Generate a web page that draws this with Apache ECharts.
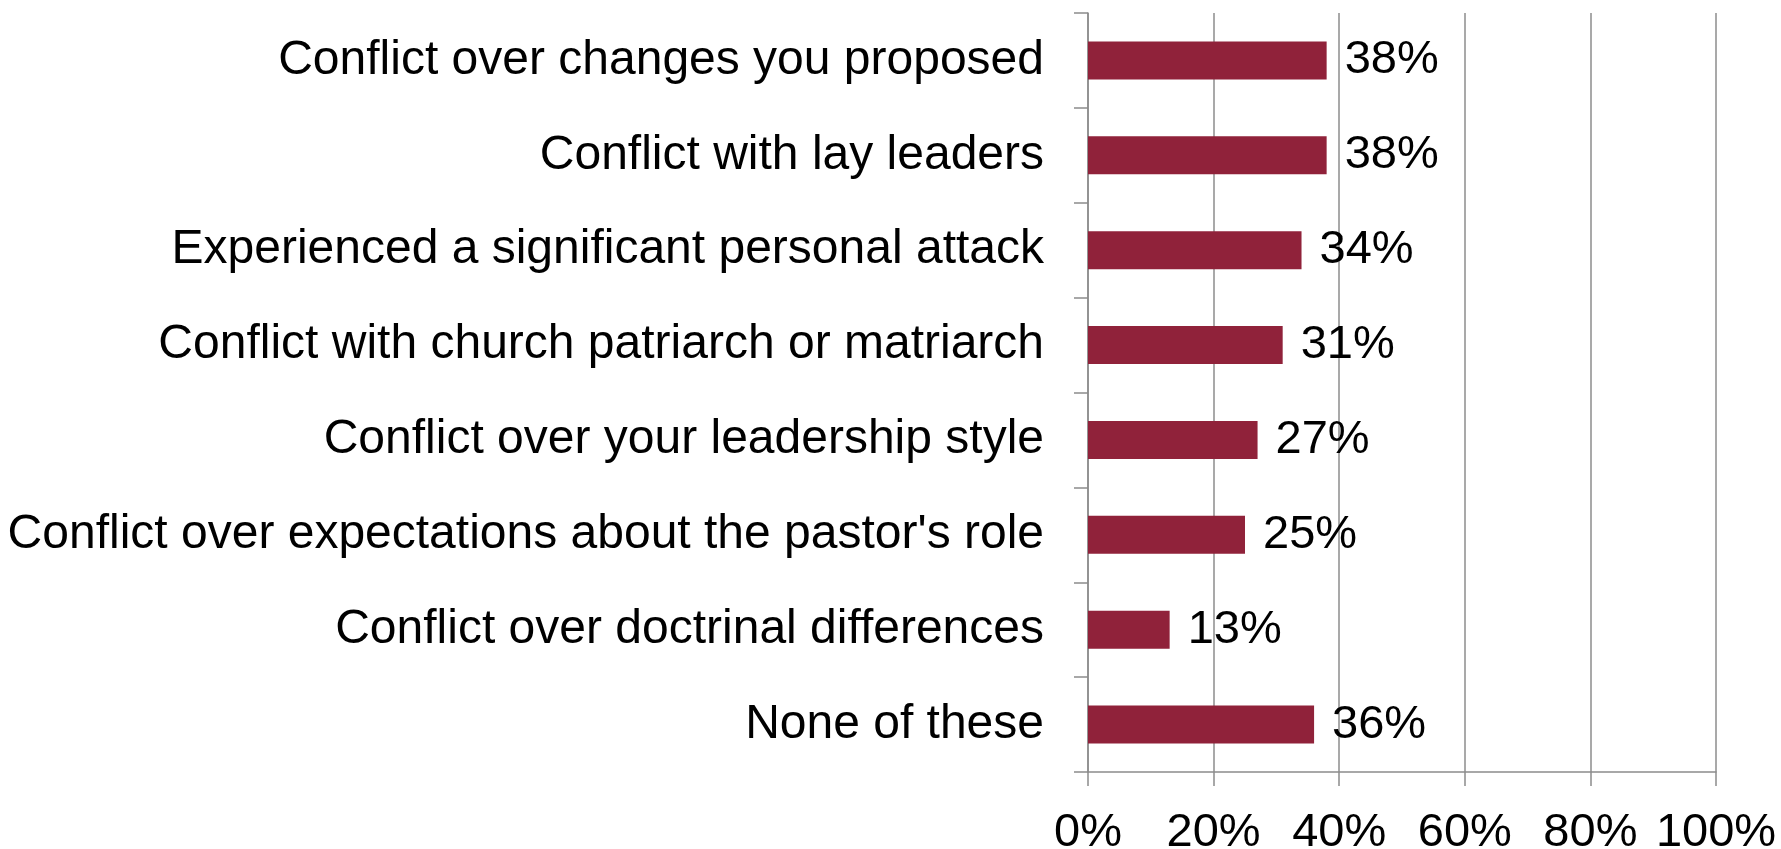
<!DOCTYPE html>
<html>
<head>
<meta charset="utf-8">
<script src="https://cdn.jsdelivr.net/npm/echarts@6/dist/echarts.min.js"></script>
<style>
html,body{margin:0;padding:0;background:#fff;}
#chart{width:1781px;height:849px;}
</style>
</head>
<body>
<div id="chart"></div>
<script>
const categories = [
  "Conflict over changes you proposed",
  "Conflict with lay leaders",
  "Experienced a significant personal attack",
  "Conflict with church patriarch or matriarch",
  "Conflict over your leadership style",
  "Conflict over expectations about the pastor's role",
  "Conflict over doctrinal differences",
  "None of these"
];
const values = [38, 38, 34, 31, 27, 25, 13, 36];
const xTicks = { min: 0, max: 100, interval: 20 };

const gray = '#8c8c8c';
const font = '"Liberation Sans", Arial, sans-serif';
const chart = echarts.init(document.getElementById('chart'), null, {renderer: 'canvas'});
chart.setOption({
  animation: false,
  backgroundColor: '#ffffff',
  grid: { left: 1088, right: 65, top: 13, bottom: 77, containLabel: false, outerBoundsMode: 'none' },
  xAxis: {
    type: 'value',
    min: xTicks.min, max: xTicks.max, interval: xTicks.interval,
    axisLine: { show: true, lineStyle: { color: gray, width: 1.5 } },
    axisTick: { show: true, length: 14, lineStyle: { color: gray, width: 1.5 } },
    splitLine: { show: true, lineStyle: { color: gray, width: 1.5 } },
    axisLabel: { formatter: '{value}%', fontSize: 47, color: '#000', fontFamily: font, margin: 38 }
  },
  yAxis: {
    type: 'category',
    data: categories,
    inverse: true,
    axisLine: { show: true, lineStyle: { color: gray, width: 1.5 } },
    axisTick: { show: true, length: 14, lineStyle: { color: gray, width: 1.5 } },
    splitLine: { show: false },
    axisLabel: { fontSize: 48, color: '#000', fontFamily: font, margin: 44, padding: [7, 0, 0, 0] }
  },
  series: [{
    type: 'bar',
    data: values,
    barWidth: 38,
    itemStyle: { color: '#90223a' },
    label: {
      show: true, position: 'right', distance: 18,
      formatter: '{c}%', fontSize: 47, color: '#000', fontFamily: font,
      padding: [8, 0, 0, 0]
    }
  }]
});
</script>
</body>
</html>
